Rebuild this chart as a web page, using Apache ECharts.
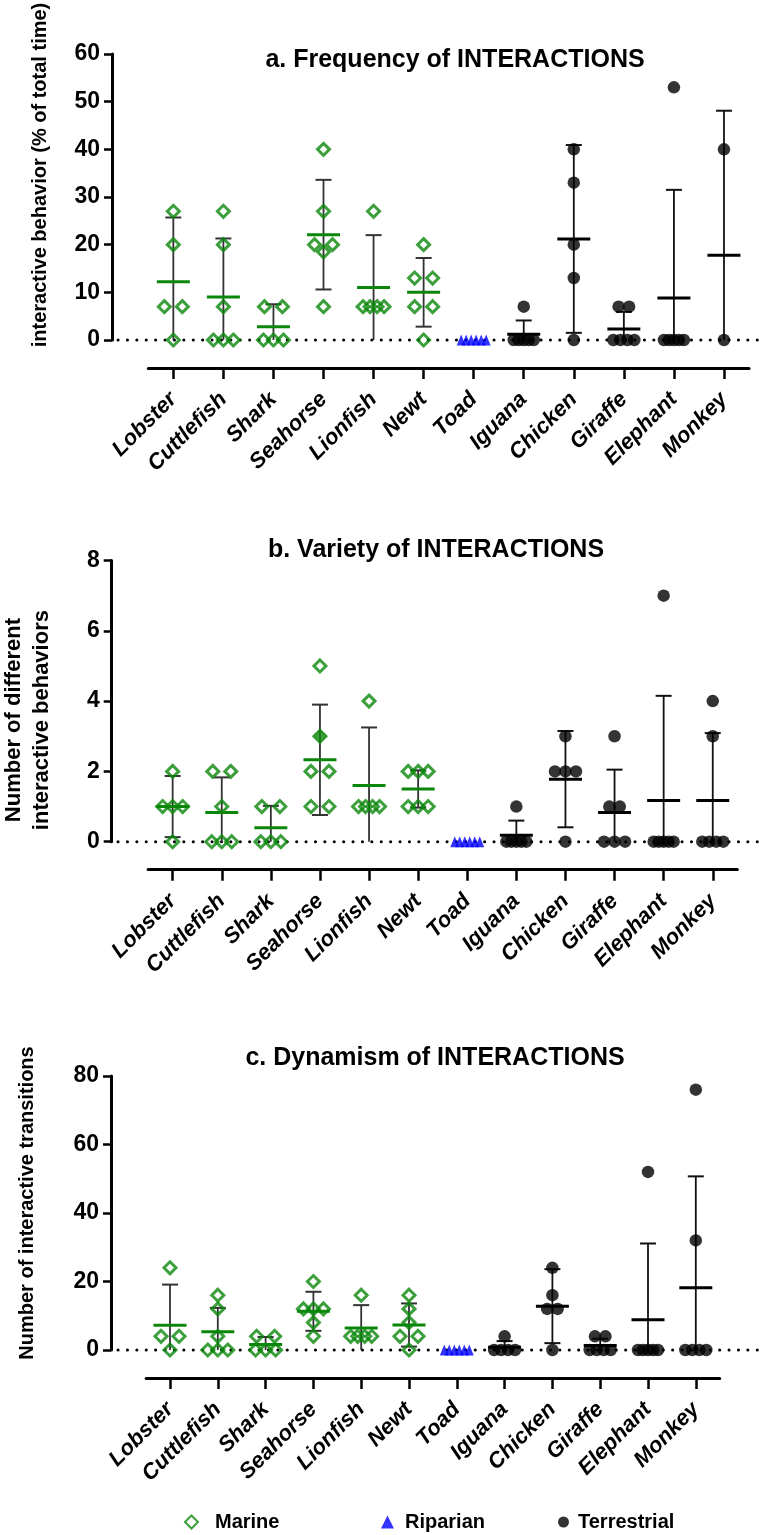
<!DOCTYPE html>
<html>
<head>
<meta charset="utf-8">
<script src="https://cdn.jsdelivr.net/npm/echarts@6/dist/echarts.min.js"></script>
<style>
html,body{margin:0;padding:0;background:#fff}
#chart{width:762px;height:1535px}
</style>
</head>
<body>
<div id="chart"></div>
<script>
// ---------- DATA ----------
const categories = ['Lobster','Cuttlefish','Shark','Seahorse','Lionfish','Newt','Toad','Iguana','Chicken','Giraffe','Elephant','Monkey'];
const habitats = ['Marine','Marine','Marine','Marine','Marine','Marine','Riparian','Terrestrial','Terrestrial','Terrestrial','Terrestrial','Terrestrial'];
const legendNames = ['Marine','Riparian','Terrestrial'];

// a. Frequency of INTERACTIONS (% of total time)
const freqValues = [
  [27,20,7,7,0],
  [27,20,7,0,0,0],
  [7,7,0,0,0],
  [40,27,20,20,18.5,7],
  [27,7,7,7,7],
  [20,13,13,7,7,0],
  [0,0,0,0,0,0],
  [7,0,0,0,0,0],
  [40,33,20,13,0],
  [7,7,0,0,0,0],
  [53,0,0,0,0,0],
  [40,0]
];
const freqMean = [12.2, 9.0, 2.8, 22.1, 11.0, 10.0, 0, 1.2, 21.2, 2.3, 8.8, 17.8];
const freqSD   = [13.5, 12.3, 4.7, 11.5, 11.0, 7.2, 0, 2.9, 19.7, 3.6, 22.7, 30.3];
const freqTicks = [0, 10, 20, 30, 40, 50, 60];

// b. Variety of INTERACTIONS (number of different interactive behaviors)
const varietyValues = [
  [2,1,1,1,0],
  [2,2,1,0,0,0],
  [1,1,0,0,0],
  [5,2,2,1,1],
  [4,1,1,1,1],
  [2,2,2,1,1,1],
  [0,0,0,0,0,0],
  [1,0,0,0,0,0],
  [3,2,2,2,0],
  [3,1,1,0,0,0],
  [7,0,0,0,0,0],
  [4,3,0,0,0,0]
];
const varietyFilled = [[3, 3]];   // [category index, value] highlighted (filled) point
const varietyMean = [1.0, 0.83, 0.4, 2.33, 1.6, 1.5, 0, 0.18, 1.78, 0.83, 1.17, 1.17];
const varietySD   = [0.87, 1.0, 0.62, 1.57, 1.65, 0.53, 0, 0.42, 1.37, 1.22, 2.98, 1.92];
const varietyTicks = [0, 2, 4, 6, 8];

// c. Dynamism of INTERACTIONS (number of interactive transitions)
const dynValues = [
  [24,4,4,0],
  [16,12,4,0,0,0],
  [4,4,0,0,0],
  [20,12,12,12,8,4],
  [16,4,4,4,4],
  [16,12,8,4,4,0],
  [0,0,0,0,0,0],
  [4,0,0,0,0],
  [24,16,12,12,0],
  [4,4,0,0,0,0],
  [52,0,0,0,0,0],
  [76,32,0,0,0,0]
];
const dynMean = [7.2, 5.3, 1.6, 11.3, 6.4, 7.3, 0, 0.8, 12.8, 1.3, 8.8, 18.2];
const dynSD   = [11.9, 7.0, 2.2, 5.7, 6.7, 6.3, 0, 1.8, 10.8, 2.0, 22.3, 32.5];
const dynTicks = [0, 20, 40, 60, 80];

const titles = ['a. Frequency of INTERACTIONS', 'b. Variety of INTERACTIONS', 'c. Dynamism of INTERACTIONS'];
const yNames = ['interactive behavior (% of total time)', 'Number of different\ninteractive behaviors', 'Number of interactive transitions'];

// ---------- STYLE / LAYOUT ----------
const GREEN = '#0a870a', BLUE = '#0000ff', BLACK = '#000000';
const FONT = "'Liberation Sans', Arial, Helvetica, sans-serif";
const habitatStyle = {
  Marine: {symbol: 'diamond', size: 12, itemStyle: {color: 'rgba(0,0,0,0)', borderColor: GREEN, borderWidth: 3}, spread: n => n === 2 ? 18 : n === 3 ? 10 : n === 4 ? 7 : 5, mean: GREEN, bar: '#333'},
  Riparian: {symbol: 'triangle', size: [9, 11], itemStyle: {color: BLUE}, spread: n => 5, mean: BLUE, bar: '#333'},
  Terrestrial: {symbol: 'circle', size: 12.5, itemStyle: {color: BLACK}, spread: n => n <= 3 ? 10.5 : n === 4 ? 7 : 5, mean: BLACK, bar: '#111'}
};

const layout = [
  {grid: {left: 148.3, top: 54, width: 600.7, height: 286}, yOffset: 36.3, title: {x: 450, y: 43}, nameGap: 60, nameSize: 20, lineH: 23, namePad: [0, 0, 0, 44]},
  {grid: {left: 148.1, top: 560.5, width: 589.2, height: 281.2}, yOffset: 36.4, title: {x: 431, y: 533}, nameGap: 56, nameSize: 22, lineH: 28, namePad: [0, 38, 0, 0]},
  {grid: {left: 146.1, top: 1076, width: 573.6, height: 274}, yOffset: 35.1, title: {x: 430, y: 1041}, nameGap: 72, nameSize: 20, lineH: 23, namePad: [0, 0, 0, 20]}
];

const panels = [
  {values: freqValues, mean: freqMean, sd: freqSD, ticks: freqTicks, filled: []},
  {values: varietyValues, mean: varietyMean, sd: varietySD, ticks: varietyTicks, filled: varietyFilled},
  {values: dynValues, mean: dynMean, sd: dynSD, ticks: dynTicks, filled: []}
];

const option = {
  backgroundColor: '#ffffff',
  animation: false,
  textStyle: {fontFamily: FONT},
  title: [], grid: [], xAxis: [], yAxis: [], series: [],
  legend: []
};

panels.forEach((p, pi) => {
  const L = layout[pi];
  option.title.push({
    text: titles[pi], left: L.title.x, top: L.title.y, textAlign: 'center',
    textStyle: {fontFamily: FONT, fontWeight: 'bold', fontSize: 25, color: '#000'}
  });
  option.grid.push(Object.assign({containLabel: false, outerBoundsMode: 'none'}, L.grid));
  option.xAxis.push({
    type: 'category', gridIndex: pi, data: categories, boundaryGap: true,
    offset: 28,
    axisLine: {show: true, onZero: false, lineStyle: {color: '#000', width: 3}},
    axisTick: {show: true, alignWithLabel: true, length: 11, lineStyle: {color: '#000', width: 2.5}},
    axisLabel: {rotate: 45, interval: 0, margin: 28, color: '#000', fontFamily: FONT, fontWeight: 'bold', fontStyle: 'italic', fontSize: 22},
    splitLine: {show: false}
  });
  const tk = p.ticks;
  option.yAxis.push({
    type: 'value', gridIndex: pi, min: tk[0], max: tk[tk.length - 1], interval: tk[1] - tk[0],
    offset: L.yOffset,
    name: yNames[pi], nameLocation: 'middle', nameRotate: 90, nameGap: L.nameGap,
    nameTextStyle: {fontFamily: FONT, fontWeight: 'bold', fontSize: L.nameSize, color: '#000', lineHeight: L.lineH, padding: L.namePad},
    axisLine: {show: true, lineStyle: {color: '#000', width: 3}},
    axisTick: {show: true, length: 8, lineStyle: {color: '#000', width: 2.5}},
    axisLabel: {color: '#000', fontFamily: FONT, fontWeight: 'bold', fontSize: 23, margin: 12},
    splitLine: {show: false}
  });

  // error bars (mean ± SD) + mean lines
  const stats = categories.map((c, ci) => [ci, p.mean[ci], p.sd[ci]]);
  option.series.push({
    type: 'custom', xAxisIndex: pi, yAxisIndex: pi, z: 3, silent: true,
    data: stats,
    renderItem: function (params, api) {
      const ci = api.value(0), m = api.value(1), sd = api.value(2);
      if (!sd) return null;
      const st = habitatStyle[habitats[ci]];
      const c = api.coord([ci, m]);
      const top = api.coord([ci, m + sd]);
      const lowV = m - sd;
      const bot = api.coord([ci, Math.max(lowV, 0)]);
      const children = [
        {type: 'line', shape: {x1: c[0], y1: top[1], x2: c[0], y2: bot[1]}, style: {stroke: st.bar, lineWidth: 1.8}},
        {type: 'line', shape: {x1: c[0] - 8, y1: top[1], x2: c[0] + 8, y2: top[1]}, style: {stroke: st.bar, lineWidth: 2}}
      ];
      if (lowV > 0) children.push({type: 'line', shape: {x1: c[0] - 8, y1: bot[1], x2: c[0] + 8, y2: bot[1]}, style: {stroke: st.bar, lineWidth: 2}});
      children.push({type: 'line', shape: {x1: c[0] - 16.5, y1: c[1], x2: c[0] + 16.5, y2: c[1]}, style: {stroke: st.mean, lineWidth: 3}});
      return {type: 'group', children: children};
    }
  });

  // scatter points per habitat (equal values spread sideways)
  legendNames.forEach(h => {
    const st = habitatStyle[h];
    const data = [];
    p.values.forEach((vals, ci) => {
      if (habitats[ci] !== h) return;
      const counts = {}, seen = {};
      vals.forEach(v => counts[v] = (counts[v] || 0) + 1);
      vals.forEach(v => {
        seen[v] = seen[v] === undefined ? 0 : seen[v] + 1;
        const dx = (seen[v] - (counts[v] - 1) / 2) * st.spread(counts[v]);
        data.push({value: [ci, v], symbolOffset: [dx, 0]});
      });
    });
    p.filled.forEach(f => {
      if (habitats[f[0]] !== h) return;
      data.push({value: [f[0], f[1]], symbolSize: 14, itemStyle: {color: GREEN, borderColor: GREEN, borderWidth: 1.5}});
    });
    option.series.push({
      type: 'scatter', name: h, xAxisIndex: pi, yAxisIndex: pi, z: 4,
      symbol: st.symbol, symbolSize: st.size, itemStyle: st.itemStyle,
      data: data
    });
  });
});

// legends
const legendPos = [{left: 179, gap: 12, w: 13}, {left: 376, gap: 6, w: 13}, {left: 553, gap: 4, w: 11}];
legendNames.forEach((n, i) => {
  option.legend.push({
    data: [n], left: legendPos[i].left, top: 1507, selectedMode: false,
    itemWidth: legendPos[i].w, itemHeight: legendPos[i].w,
    textStyle: {fontFamily: FONT, fontWeight: 'bold', fontSize: 20, color: '#000', padding: [0, 0, 0, legendPos[i].gap]}
  });
});

const chart = echarts.init(document.getElementById('chart'), null, {renderer: 'canvas'});
chart.setOption(option);

// dotted zero reference line for each panel, placed through the axis scale
const dotted = panels.map((p, pi) => {
  const y = chart.convertToPixel({yAxisIndex: pi}, 0);
  return {type: 'line', z: 1, shape: {x1: 118, y1: y, x2: 760, y2: y},
    style: {stroke: '#000', lineWidth: 3, lineDash: [0.1, 9.3], lineCap: 'round'}};
});
chart.setOption({graphic: dotted});
</script>
</body>
</html>
